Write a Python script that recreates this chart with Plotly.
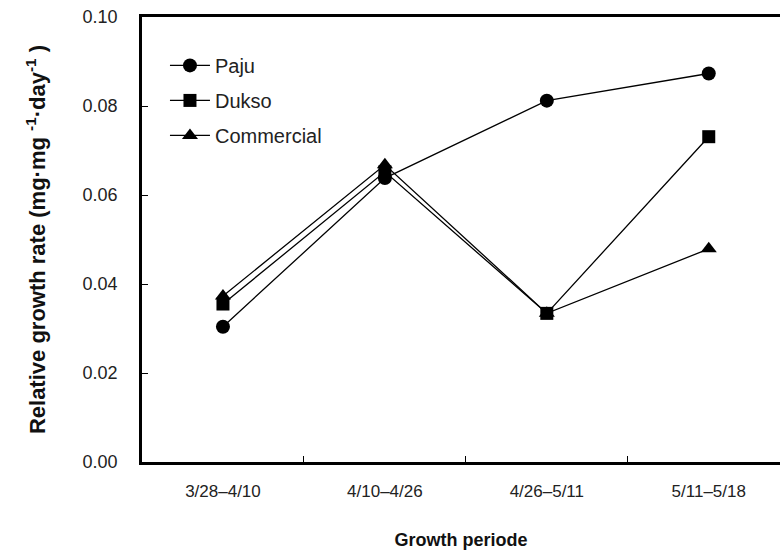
import plotly.graph_objects as go

periods = ["3/28–4/10", "4/10–4/26", "4/26–5/11", "5/11–5/18"]
paju = [0.0304, 0.0638, 0.0812, 0.0873]
dukso = [0.0355, 0.0652, 0.0334, 0.0731]
commercial = [0.0373, 0.0668, 0.0334, 0.0479]

y_ticks = [0.0, 0.02, 0.04, 0.06, 0.08, 0.10]
y_tick_text = ["0.00", "0.02", "0.04", "0.06", "0.08", "0.10"]

FONT = "Liberation Sans, Arial, sans-serif"

fig = go.Figure()
series = [
    ("Paju", paju, "circle", 14),
    ("Dukso", dukso, "square", 13),
    ("Commercial", commercial, "triangle-up", 14),
]
for name, vals, sym, size in series:
    fig.add_trace(go.Scatter(
        x=periods, y=vals, name=name, mode="lines+markers",
        legendgroup=name,
        line=dict(color="black", width=1.3),
        marker=dict(symbol=sym, size=size, color="black"),
    ))

fig.update_layout(
    width=780, height=554,
    margin=dict(l=142, r=0, t=17, b=92),
    paper_bgcolor="white", plot_bgcolor="white",
    font=dict(family=FONT, color="#222"),
    showlegend=True,
    legend=dict(
        x=0.036, y=0.935, xanchor="left", yanchor="top",
        bgcolor="rgba(0,0,0,0)", borderwidth=0,
        font=dict(size=20, color="#222"),
        tracegroupgap=6, traceorder="grouped",
        itemwidth=40,
    ),
    xaxis=dict(
        type="category", categoryorder="array", categoryarray=periods,
        range=[-0.5, 3.44],
        showline=True, linecolor="black", linewidth=2.5, mirror=True,
        ticks="inside", tickson="boundaries", ticklen=6, tickcolor="black", tickwidth=1,
        showgrid=False, zeroline=False,
        tickfont=dict(size=17, color="#222"),
        ticklabelstandoff=12,
        title=dict(text="<b>Growth periode</b>", font=dict(size=18, color="#111"), standoff=34),
    ),
    yaxis=dict(
        range=[0, 0.10], tickvals=y_ticks, ticktext=y_tick_text,
        showline=True, linecolor="black", linewidth=2.5, mirror=False,
        ticks="inside", ticklen=6, tickcolor="black", tickwidth=1,
        showgrid=False, zeroline=False,
        tickfont=dict(size=18, color="#222"),
        ticklabelstandoff=18,
        title=dict(text="<b>Relative growth rate (mg·mg <sup>-1</sup>·day<sup>-1</sup> )</b>",
                   font=dict(size=22, color="#111"), standoff=31),
    ),
)

fig.write_html("out.html")
